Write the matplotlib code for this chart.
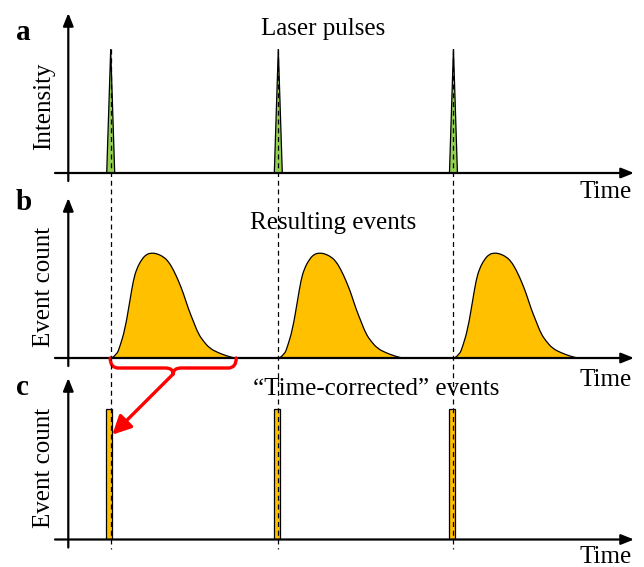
import matplotlib
matplotlib.use("Agg")
import matplotlib.pyplot as plt
from matplotlib.patches import Polygon
from matplotlib.path import Path
from matplotlib.patches import PathPatch
import matplotlib.transforms as mtrans

plt.rcParams['font.family'] = ['Liberation Serif', 'DejaVu Serif']

# ---------------- data ----------------
pulse_times = [0.0, 10.0, 20.45]          # laser pulse times (arb. units)
pulse_peak = 1.0                           # normalized laser intensity
# shape of one "resulting events" hump: time after pulse, normalized count
hump_t = [0.06, 0.36, 0.55, 0.85, 1.15, 1.35, 1.55, 1.85, 2.15, 2.45, 2.74,
          3.14, 3.44, 3.74, 4.03, 4.33, 4.63, 4.93, 5.23, 5.53, 5.92, 6.42,
          6.92, 7.32, 7.40]
hump_count = [0.0, 0.03, 0.11, 0.27, 0.55, 0.74, 0.85, 0.94, 0.99, 1.0, 0.995,
              0.965, 0.92, 0.84, 0.74, 0.62, 0.47, 0.35, 0.23, 0.16, 0.09,
              0.05, 0.02, 0.003, 0.0]
corrected_count = 1.0                      # "time-corrected" events (all at pulse time)
panel_titles = ["Laser pulses", "Resulting events", "\u201cTime-corrected\u201d events"]
panel_letters = ["a", "b", "c"]
y_labels = ["Intensity", "Event count", "Event count"]
x_label = "Time"

# ---------------- layout ----------------
W, H = 644, 567
fig = plt.figure(figsize=(W / 100, H / 100), dpi=100)
PX0, PXS = 110.7, 16.76          # pixel position of t=0, pixels per time unit


def t_of(px):
    return (px - PX0) / PXS


def make_axes(base_px, top_px, unit_px):
    ax = fig.add_axes([0, (H - base_px) / H, 1, (base_px - top_px) / H])
    ax.set_xlim(t_of(0), t_of(W))
    ax.set_ylim(0, (base_px - top_px) / unit_px)
    ax.axis('off')
    ax.patch.set_alpha(0)
    return ax


ax_a = make_axes(173, 13, 124)
ax_b = make_axes(358, 198, 105)
ax_c = make_axes(539.5, 378, 131)
axes = [ax_a, ax_b, ax_c]
bases = [173, 358, 539.5]
units = [124, 105, 131]

fs = 18
yaxis_t = t_of(68.3)
for ax, base, unit, ttl, tpos, timey in zip(
        axes, bases, units, panel_titles,
        [(323, 35.5), (333, 229), (376, 395)], [198, 386, 563]):
    ytop = ax.get_ylim()[1]
    below = -8 / unit
    # y axis arrow
    ax.annotate('', xy=(yaxis_t, ytop), xytext=(yaxis_t, below),
                arrowprops=dict(arrowstyle='-|>,head_length=0.55,head_width=0.22',
                                lw=1.6, color='black', shrinkA=0, shrinkB=0,
                                mutation_scale=14), annotation_clip=False)
    # x axis arrow
    ax.annotate('', xy=(t_of(634), 0), xytext=(t_of(55), 0),
                arrowprops=dict(arrowstyle='-|>,head_length=0.55,head_width=0.22',
                                lw=1.6, color='black', shrinkA=0, shrinkB=0,
                                mutation_scale=14), annotation_clip=False)
    fig.text(tpos[0] / W, 1 - tpos[1] / H, ttl, ha='center', va='baseline', fontsize=fs)
    fig.text(632 / W, 1 - timey / H, x_label, ha='right', va='baseline', fontsize=fs)

# panel letters and y labels
for let, py in zip(panel_letters, [40, 210, 395]):
    fig.text(16 / W, 1 - py / H, let, ha='left', va='baseline', fontsize=21,
             fontweight='bold')
for lab, pyc in zip(y_labels, [106, 287, 468]):
    fig.text(44 / W, 1 - pyc / H, lab, ha='center', va='center', fontsize=fs,
             rotation=90)

# dashed guide lines through all panels
trans = mtrans.blended_transform_factory(ax_a.transData, fig.transFigure)
for t in pulse_times:
    fig.add_artist(plt.Line2D([t, t], [1 - 49 / H, 1 - 549 / H], transform=trans,
                              color='black', lw=0.9, ls=(0, (4, 3)), zorder=1))

# panel a: laser pulses
hw = 4 / PXS
for t in pulse_times:
    ax_a.add_patch(Polygon([[t - hw, 0], [t, pulse_peak], [t + hw, 0]],
                           closed=True, facecolor='#92D050', edgecolor='black',
                           lw=0.9, zorder=2))


# panel b: resulting events (smooth quadratic B-spline outline through the read points)
def smooth_path(xs, ys, closed):
    pts = list(zip(xs, ys))
    verts = [pts[0]]
    codes = [Path.MOVETO]
    for i in range(1, len(pts) - 1):
        mid = ((pts[i][0] + pts[i + 1][0]) / 2, (pts[i][1] + pts[i + 1][1]) / 2)
        if i == len(pts) - 2:
            mid = pts[-1]
        verts += [pts[i], mid]
        codes += [Path.CURVE3, Path.CURVE3]
    if closed:
        verts += [pts[0]]
        codes += [Path.CLOSEPOLY]
    return Path(verts, codes)


for t in pulse_times:
    xs = [t + d for d in hump_t]
    ax_b.add_patch(PathPatch(smooth_path(xs, hump_count, True), facecolor='#FFC000',
                             edgecolor='none', zorder=2))
    ax_b.add_patch(PathPatch(smooth_path(xs, hump_count, False), facecolor='none',
                             edgecolor='black', lw=0.9, zorder=3))

# panel c: time-corrected events
bw = 5.5 / PXS
ax_c.bar([t - 1.5 / PXS for t in pulse_times], [corrected_count] * len(pulse_times),
         width=bw, color='#FFC000', edgecolor='black', lw=0.9, zorder=2)

# red brace under first hump (panel b)
x0 = pulse_times[0] + hump_t[0] - 1.5 / PXS
x1 = pulse_times[0] + hump_t[-1] + 1.5 / PXS
xm = (x0 + x1) / 2
u = 1 / 105.0
yb = -10 * u
ytip = -16 * u
r = 8 / PXS
verts = [(x0, 0), (x0, yb), (x0 + r, yb),
         (xm - r, yb), (xm, yb), (xm, ytip),
         (xm, yb), (xm + r, yb),
         (x1 - r, yb), (x1, yb), (x1, 0)]
codes = [Path.MOVETO, Path.CURVE3, Path.CURVE3,
         Path.LINETO, Path.CURVE3, Path.CURVE3,
         Path.CURVE3, Path.CURVE3,
         Path.LINETO, Path.CURVE3, Path.CURVE3]
ax_b.add_patch(PathPatch(Path(verts, codes), facecolor='none', edgecolor='#FF0000',
                         lw=2.4, zorder=4, clip_on=False, capstyle='round',
                         joinstyle='round'))

# red arrow from brace to corrected bar
ax_c.annotate('', xy=(pulse_times[0] + 0.1, 0.8), xycoords='data',
              xytext=(xm, ytip), textcoords=ax_b.transData,
              arrowprops=dict(arrowstyle='-|>,head_length=0.8,head_width=0.4',
                              lw=2.4, color='#FF0000', shrinkA=0, shrinkB=0,
                              mutation_scale=14),
              annotation_clip=False, zorder=5)

fig.savefig('out.png', dpi=100)
